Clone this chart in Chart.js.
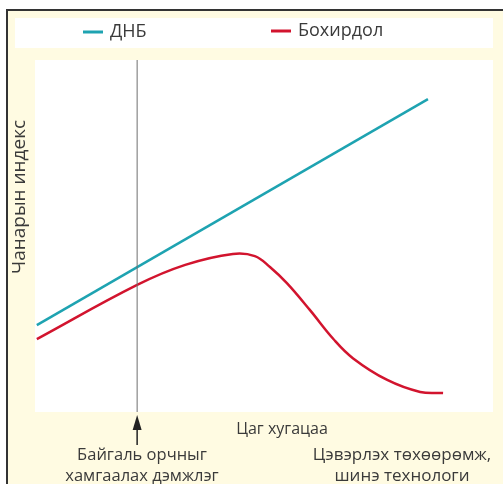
<!DOCTYPE html>
<html>
<head>
<meta charset="utf-8">
<script src="https://cdn.jsdelivr.net/npm/chart.js@4.4.1/dist/chart.umd.min.js"></script>
<style>
  html, body { margin: 0; padding: 0; background: #ffffff; }
  #wrap { position: relative; width: 503px; height: 484px; }
</style>
</head>
<body>
<div id="wrap"><canvas id="myChart" width="503" height="484"></canvas></div>
<script>
// Өгөгдөл (зурагнаас уншсан ойролцоо утгууд)
const seriesNames = ['ДНБ', 'Бохирдол'];
const dnbX = [0.4, 85.8];
const dnbY = [24.7, 88.9];
const pollX = [0.4, 22.3, 32.8, 43.2, 48.0, 51.3, 55.0, 60.0, 65.1, 69.4, 76.9, 84.1, 89.1];
const pollY = [20.7, 36.1, 41.8, 44.9, 44.3, 41.2, 36.6, 29.0, 20.8, 15.3, 9.1, 5.7, 5.4];
const markerX = [22.3, 22.3];
const markerY = [0, 100];
const xTitle = 'Цаг хугацаа';
const yTitle = 'Чанарын индекс';
const leftNote = ['Байгаль орчныг', 'хамгаалах дэмжлэг'];
const rightNote = ['Цэвэрлэх төхөөрөмж,', 'шинэ технологи'];

const colors = ['#1ea3b1', '#d2142e'];
const FONT = '"Open Sans", "Noto Sans", sans-serif';

function toPoints(xs, ys) {
    return xs.map((x, i) => ({ x: x, y: ys[i] }));
}

// Дэвсгэр, хүрээ, тайлбар зурах plugin
const decor = {
    id: 'decor',
    beforeDraw(chart) {
        const ctx = chart.ctx;
        const a = chart.chartArea;
        ctx.save();
        ctx.fillStyle = '#ffffff';
        ctx.fillRect(0, 0, chart.width, chart.height);
        ctx.fillStyle = '#fffbe2';
        ctx.fillRect(7, 10, chart.width - 7, chart.height - 10);
        // хүрээ
        ctx.strokeStyle = '#333333';
        ctx.lineWidth = 2;
        ctx.beginPath();
        ctx.moveTo(7, chart.height);
        ctx.lineTo(7, 10);
        ctx.lineTo(chart.width, 10);
        ctx.stroke();
        // legend-ийн цагаан хайрцаг
        ctx.fillStyle = '#ffffff';
        ctx.fillRect(15, 18, 478, 30);
        // графикийн цагаан талбай
        ctx.fillRect(a.left, a.top, a.right - a.left, a.bottom - a.top);
        ctx.restore();
    },
    afterDraw(chart) {
        const ctx = chart.ctx;
        const xs = chart.scales.x;
        ctx.save();
        // legend
        const legendPos = [[83, 32], [271, 31]];
        ctx.font = '18px ' + FONT;
        ctx.textBaseline = 'middle';
        ctx.textAlign = 'left';
        seriesNames.forEach((name, i) => {
            const [lx, ly] = legendPos[i];
            ctx.strokeStyle = colors[i];
            ctx.lineWidth = 3;
            ctx.beginPath();
            ctx.moveTo(lx, ly);
            ctx.lineTo(lx + 20, ly);
            ctx.stroke();
            ctx.fillStyle = '#3a3a3a';
            ctx.fillText(name, lx + 27, ly);
        });
        // тэнхлэгийн нэрс
        ctx.font = '16px ' + FONT;
        ctx.textAlign = 'center';
        ctx.fillText(xTitle, 282, 429);
        ctx.save();
        ctx.translate(20, 197);
        ctx.rotate(-Math.PI / 2);
        ctx.font = '19px ' + FONT;
        ctx.fillText(yTitle, 0, 0);
        ctx.restore();
        // сум
        const ax = xs.getPixelForValue(markerX[0]);
        ctx.strokeStyle = '#222222';
        ctx.fillStyle = '#222222';
        ctx.lineWidth = 1.5;
        ctx.beginPath();
        ctx.moveTo(ax, 428);
        ctx.lineTo(ax, 445);
        ctx.stroke();
        ctx.beginPath();
        ctx.moveTo(ax, 415);
        ctx.lineTo(ax - 4.5, 430);
        ctx.lineTo(ax + 4.5, 430);
        ctx.closePath();
        ctx.fill();
        // доод тайлбарууд
        ctx.fillStyle = '#3a3a3a';
        ctx.font = '16.5px ' + FONT;
        leftNote.forEach((t, i) => ctx.fillText(t, 142, 455 + i * 21));
        ctx.font = '17px ' + FONT;
        rightNote.forEach((t, i) => ctx.fillText(t, 402, 455 + i * 21));
        ctx.restore();
    }
};

const config = {
    type: 'scatter',
    data: {
        datasets: [
            {
                label: 'marker',
                data: toPoints(markerX, markerY),
                showLine: true,
                borderColor: '#6e6e6e',
                borderWidth: 1,
                pointRadius: 0
            },
            {
                label: seriesNames[0],
                data: toPoints(dnbX, dnbY),
                showLine: true,
                borderColor: colors[0],
                borderWidth: 2.5,
                pointRadius: 0
            },
            {
                label: seriesNames[1],
                data: toPoints(pollX, pollY),
                showLine: true,
                borderColor: colors[1],
                borderWidth: 2.5,
                pointRadius: 0,
                tension: 0.4
            }
        ]
    },
    options: {
        responsive: false,
        animation: false,
        layout: {
            padding: { left: 35, right: 10, top: 60, bottom: 72 }
        },
        plugins: {
            legend: { display: false },
            tooltip: { enabled: false }
        },
        scales: {
            x: { type: 'linear', min: 0, max: 100, display: false },
            y: { type: 'linear', min: 0, max: 100, display: false }
        }
    },
    plugins: [decor]
};

const myChart = new Chart(document.getElementById('myChart'), config);
</script>
</body>
</html>
